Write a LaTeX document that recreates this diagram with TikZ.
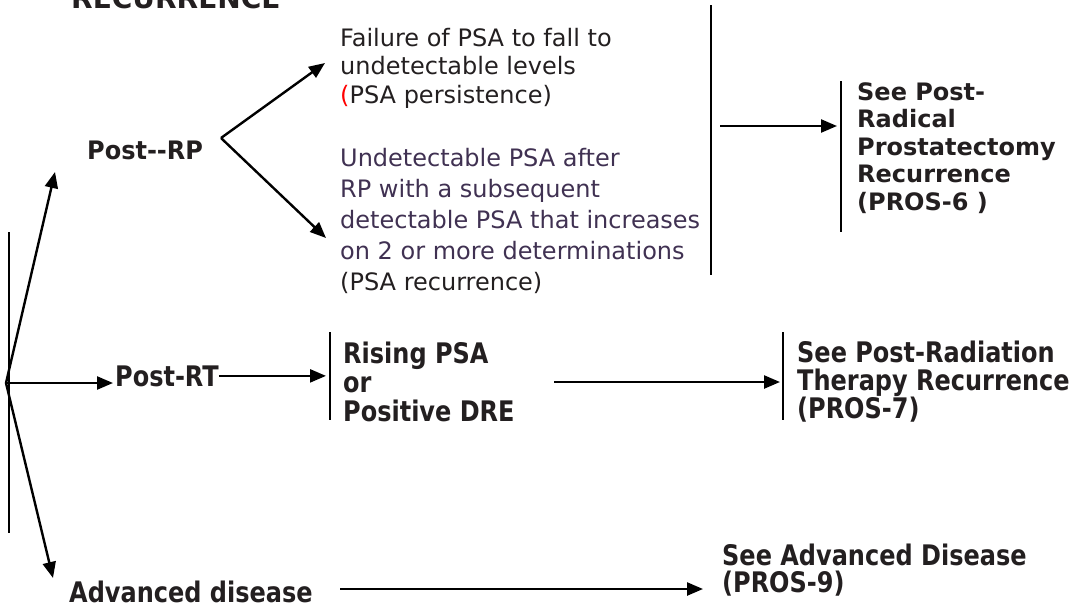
\documentclass[tikz,border=0pt]{standalone}
\usepackage{fontspec}
\usepackage{graphicx}
\setmainfont{DejaVu Sans}
\usetikzlibrary{arrows.meta}
\definecolor{ink}{HTML}{231F20}
\definecolor{plum}{HTML}{403152}
% left-aligned block of lines; the node's baseline is the first line's baseline
\newcommand{\blk}[2]{\parbox[t]{420pt}{\raggedright\fontsize{24}{#1}\selectfont\leavevmode #2}}
% narrow, tall lettering of the lower labels
\newcommand{\tall}[1]{\scalebox{1}[1.18]{#1}}

\begin{document}
\begin{tikzpicture}[x=1pt,y=-1pt,
  lbl/.style={anchor=base west, inner sep=0pt, text=ink},
  hd/.style={lbl, font=\fontsize{24}{24}\selectfont\bfseries},
  arr/.style={line width=2.4pt, -{Triangle[length=16pt,width=13pt]}},
  bar/.style={line width=2pt}]
\useasboundingbox (0,0) rectangle (1077,606);

% heading, cut by the top edge
\node[lbl, font=\fontsize{28}{28}\selectfont\bfseries] (title) at (71,8) {RECURRENCE};

% left bracket and the three branches
\coordinate (lt) at (9,232);
\coordinate (lb) at (9,533);
\draw[bar] (lt) -- (lb);
\coordinate (o) at (6,383);

\node[hd] (rp) at (87,159) {\scalebox{1}[1.06]{Post-\kern0pt-RP}};
\node[hd] (rt) at (115,386) {\tall{Post-RT}};
\node[hd] (adv) at (69,602) {\tall{Advanced disease}};

\coordinate (rpin) at (55,172);
\coordinate (advin) at (53,578);
\draw[arr] (o) -- (rpin);
\draw[arr] (o) -- ([xshift=-2pt,yshift=3pt]rt.base west);
\draw[arr] (o) -- (advin);

% post-RP split
\coordinate (v) at (221,138);
\coordinate (failin) at (325,63);
\coordinate (undin) at (326,238);
\draw[arr] (v) -- (failin);
\draw[arr] (v) -- (undin);

\node[lbl] (fail) at (340,46) {\blk{28.5}{Failure of PSA to fall to\\undetectable levels\\\textcolor{red}{(}PSA persistence)}};
\node[lbl] (und) at (340,166) {\blk{31}{\color{plum}Undetectable PSA after\\RP with a subsequent\\detectable PSA that increases\\on 2 or more determinations\\\color{ink}(PSA recurrence)}};

\coordinate (mt) at (711,5);
\coordinate (mb) at (711,275);
\draw[bar] (mt) -- (mb);
\coordinate (ma) at (720,126);
\coordinate (pt) at (841,81);
\coordinate (pb) at (841,232);
\draw[arr, shorten >=4pt] (ma) -- (ma -| pt);
\draw[bar] (pt) -- (pb);
\node[hd] (seerp) at (857,100) {\bfseries\blk{27.5}{See Post-\\Radical\\Prostatectomy\\Recurrence\\(PROS-6 )}};

% post-RT row
\coordinate (rst) at (330,332);
\coordinate (rsb) at (330,420);
\draw[bar] (rst) -- (rsb);
\draw[arr, shorten >=4pt] (rt.east) -- (rt.east -| rst);
\node[hd] (rise) at (343,363) {\tall{\bfseries\blk{24.6}{Rising PSA\\or\\Positive DRE}}};

\coordinate (ra) at (554,382);
\coordinate (prt) at (783,332);
\coordinate (prb) at (783,420);
\draw[arr, shorten >=3pt] (ra) -- (ra -| prt);
\draw[bar] (prt) -- (prb);
\node[hd] (seert) at (797,362) {\tall{\bfseries\blk{24.1}{See Post-Radiation\\Therapy Recurrence\\(PROS-7)}}};

% advanced disease row
\coordinate (aa) at (340,589);
\coordinate (aend) at (703,589);
\draw[arr] (aa) -- (aend);
\node[hd] (seeadv) at (722,565) {\tall{\bfseries\blk{23.7}{See Advanced Disease\\(PROS-9)}}};
\end{tikzpicture}
\end{document}
